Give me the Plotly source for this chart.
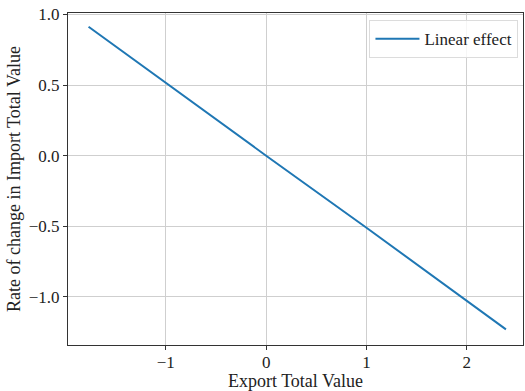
import plotly.graph_objects as go

x_vals = [-1.77, -1.0, 0.0, 1.0, 2.0, 2.39]
y_vals = [0.913, 0.515, 0.0, -0.51, -1.025, -1.229]
series_name = "Linear effect"
x_ticks = [-1, 0, 1, 2]
x_tick_text = ["\u22121", "0", "1", "2"]
y_ticks = [-1.0, -0.5, 0.0, 0.5, 1.0]
y_tick_text = ["\u22121.0", "\u22120.5", "0.0", "0.5", "1.0"]

font = "Liberation Serif, Times New Roman, serif"
fs = 18
tfs = 17

fig = go.Figure()
fig.add_trace(go.Scatter(x=x_vals, y=y_vals, mode="lines", name=series_name,
                         line=dict(color="#1f77b4", width=2)))

axis_common = dict(showline=True, linecolor="#333", linewidth=1.2, mirror=True,
                   showgrid=True, gridcolor="#cfcfcf", gridwidth=1,
                   ticks="outside", ticklen=4, tickcolor="#333", zeroline=False,
                   automargin=False,
                   tickfont=dict(family=font, size=tfs, color="#222"))

fig.update_layout(
    width=525, height=391,
    margin=dict(l=68, r=2, t=13, b=46),
    paper_bgcolor="white", plot_bgcolor="white",
    font=dict(family=font, size=fs, color="#222"),
    showlegend=True,
    legend=dict(x=0.99, y=0.978, xanchor="right", yanchor="top",
                itemwidth=44,
                bgcolor="rgba(255,255,255,0.8)", bordercolor="#dcdcdc", borderwidth=1,
                font=dict(family=font, size=17, color="#222")),
    xaxis=dict(range=[-1.975, 2.56], tickvals=x_ticks, ticktext=x_tick_text,
               ticklabelstandoff=-3,
               title=dict(text="Export Total Value", font=dict(family=font, size=fs), standoff=0),
               **axis_common),
    yaxis=dict(range=[-1.34, 1.01], tickvals=y_ticks, ticktext=y_tick_text,
               title=dict(text="Rate of change in Import Total Value", font=dict(family=font, size=fs), standoff=3),
               **axis_common),
)

fig.write_html("out.html", config={"displayModeBar": False},
               post_script="document.body.style.margin='0';document.body.style.overflow='hidden';")
